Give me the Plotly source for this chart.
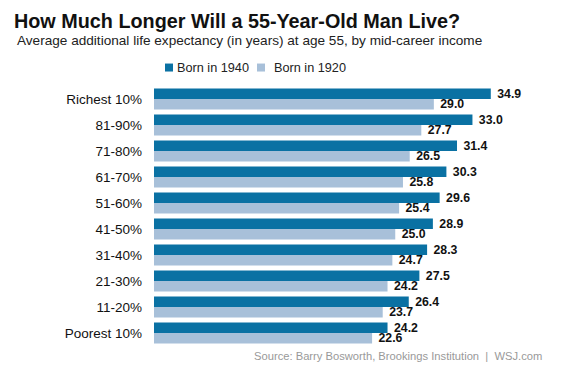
import plotly.graph_objects as go

categories = ["Richest 10%", "81-90%", "71-80%", "61-70%", "51-60%",
              "41-50%", "31-40%", "21-30%", "11-20%", "Poorest 10%"]
born_1940 = [34.9, 33.0, 31.4, 30.3, 29.6, 28.9, 28.3, 27.5, 26.4, 24.2]
born_1920 = [29.0, 27.7, 26.5, 25.8, 25.4, 25.0, 24.7, 24.2, 23.7, 22.6]
series_names = ["Born in 1940", "Born in 1920"]

DARK = "#0a71a3"
LIGHT = "#a8c0d9"
FONT = "Liberation Sans, Arial, sans-serif"

# the page body has an 8px margin; work in page pixels and convert
OFF = 8
W, H = 588 - OFF, 386 - OFF
L, R, T, B = 154 - OFF, 48, 85.5 - OFF, 40
pw = W - L - R
ph = H - T - B


def px(x):
    return (x - OFF - L) / pw


def py(y):
    return (H - B - (y - OFF)) / ph


fig = go.Figure()
for name, vals, col in [(series_names[0], born_1940, DARK), (series_names[1], born_1920, LIGHT)]:
    fig.add_trace(go.Bar(
        y=categories, x=vals, name=name, orientation="h",
        marker=dict(color=col, line=dict(width=0)),
        texttemplate=" %{x:.1f}", textposition="outside", constraintext="none",
        textfont=dict(family=FONT, size=12.3, color="#111111", weight="bold"),
        cliponaxis=False, showlegend=False,
    ))

fig.update_layout(
    width=W, height=H,
    margin=dict(l=L, r=R, t=T, b=B, autoexpand=False),
    paper_bgcolor="white", plot_bgcolor="white",
    barmode="group", bargap=0.19, bargroupgap=0,
    font=dict(family=FONT, color="#111111"),
    showlegend=False,
    xaxis=dict(range=[0, 40], visible=False, showgrid=False, zeroline=False),
    yaxis=dict(autorange="reversed", showgrid=False, showline=False, zeroline=False,
               ticks="", ticklabelstandoff=11, automargin=False,
               tickfont=dict(size=13.5, color="#111111")),
)

# legend (small squares + labels)
for (sx, tx), name, col in zip([(165, 176), (257, 273)], series_names, [DARK, LIGHT]):
    fig.add_shape(type="rect", xref="paper", yref="paper",
                  x0=px(sx), x1=px(sx + 8), y0=py(71), y1=py(63),
                  fillcolor=col, line=dict(width=0))
    fig.add_annotation(text=name, xref="paper", yref="paper", x=px(tx), y=py(67.5),
                       xanchor="left", yanchor="middle", showarrow=False,
                       font=dict(size=12.7, color="#222222"), borderpad=0)

fig.add_annotation(text="How Much Longer Will a 55-Year-Old Man Live?",
                   xref="paper", yref="paper", x=px(13), y=py(20.5), xanchor="left", yanchor="middle",
                   showarrow=False, borderpad=0,
                   font=dict(size=19.8, color="#111111", weight="bold"))
fig.add_annotation(text="Average additional life expectancy (in years) at age 55, by mid-career income",
                   xref="paper", yref="paper", x=px(16), y=py(40), xanchor="left", yanchor="middle",
                   showarrow=False, borderpad=0, font=dict(size=13.6, color="#222222"))
fig.add_annotation(text="Source: Barry Bosworth, Brookings Institution  |  WSJ.com",
                   xref="paper", yref="paper", x=px(543), y=py(356.5), xanchor="right", yanchor="middle",
                   showarrow=False, borderpad=0, font=dict(size=11.2, color="#999999"))

fig.write_html("out.html")
